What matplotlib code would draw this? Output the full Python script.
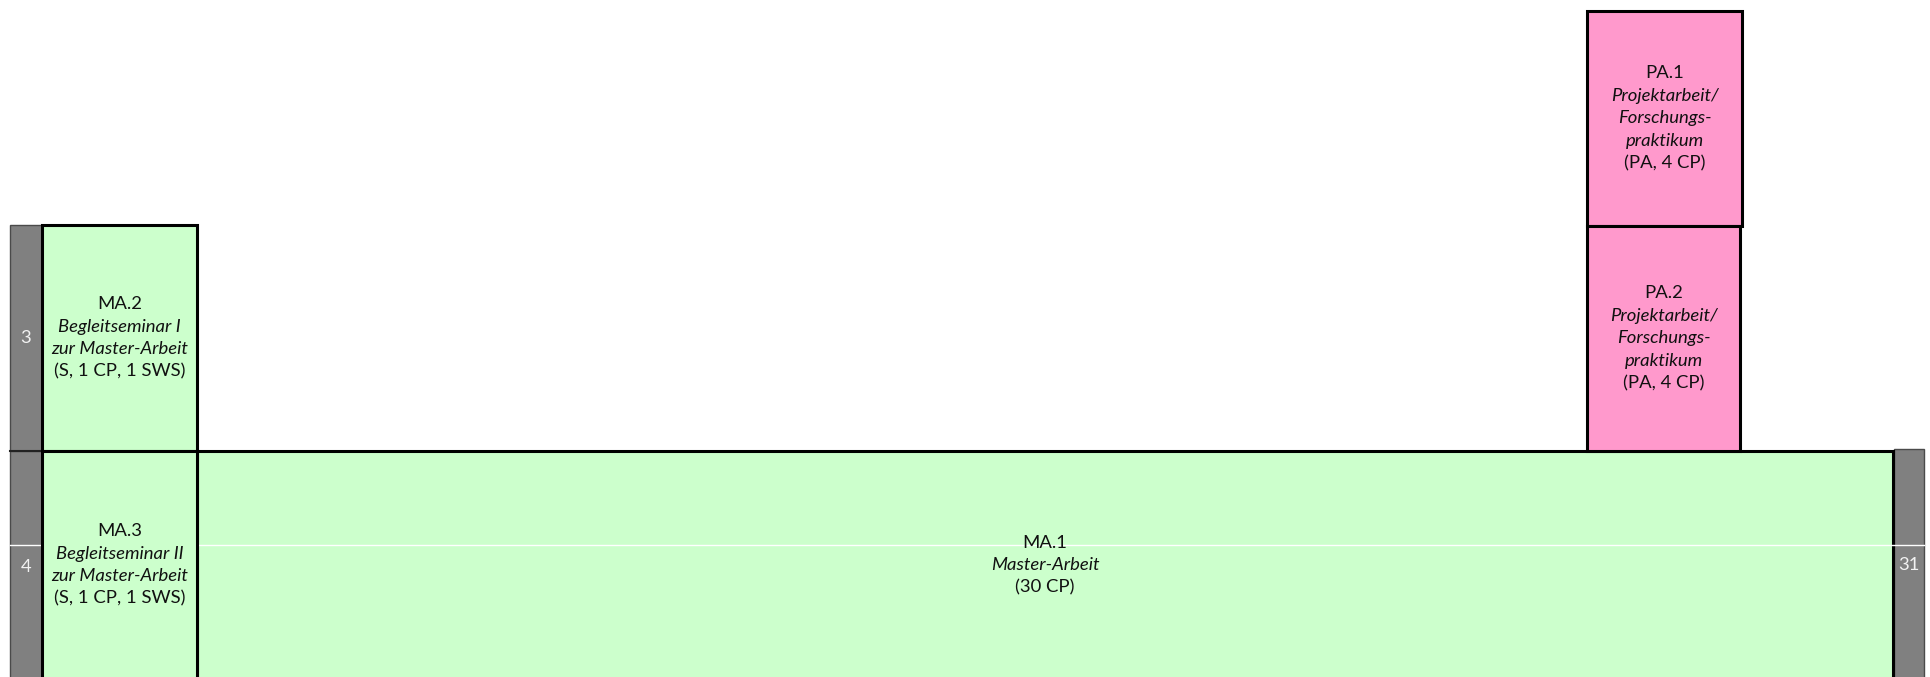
import matplotlib
matplotlib.use("Agg")
import matplotlib.pyplot as plt
from matplotlib.patches import Rectangle

# ---- data (diagram units = reference pixels, y grows downward) ----
module_ids = ["MA.2", "MA.3", "MA.1", "PA.1", "PA.2"]
module_titles = [
    ["Begleitseminar I", "zur Master-Arbeit"],
    ["Begleitseminar II", "zur Master-Arbeit"],
    ["Master-Arbeit"],
    ["Projektarbeit/", "Forschungs-", "praktikum"],
    ["Projektarbeit/", "Forschungs-", "praktikum"],
]
module_details = ["(S, 1 CP, 1 SWS)", "(S, 1 CP, 1 SWS)", "(30 CP)", "(PA, 4 CP)", "(PA, 4 CP)"]
module_x0 = [42, 42, 197, 1587, 1587]
module_x1 = [197, 197, 1893, 1742, 1740]
module_y0 = [225, 451, 451, 11, 226]
module_y1 = [451, 680, 680, 226, 451]
module_group = ["green", "green", "green", "pink", "pink"]

semester_labels = ["3", "4"]
semester_y0 = [225, 451]
semester_y1 = [451, 680]
total_label = "31"

colors = {"green": "#CCFFCC", "pink": "#FF99CC"}
gray = "#808080"

W, H = 1930, 677
fig = plt.figure(figsize=(W / 100, H / 100), dpi=100)
ax = fig.add_axes([0, 0, 1, 1])
ax.set_xlim(0, W)
ax.set_ylim(H, 0)
ax.axis("off")

FONT = ["Lato", "DejaVu Sans"]
FS = 13.3
LINE = 22.5

# left semester column
label_y = [338, 567]
for lab, y0, y1, ly in zip(semester_labels, semester_y0, semester_y1, label_y):
    ax.add_patch(Rectangle((10, y0), 32, y1 - y0, facecolor=gray,
                           edgecolor="#4a4a4a", lw=1.0, zorder=1))
    ax.text(26, ly, lab, color="#f2f2f2",
            ha="center", va="center", fontsize=FS, family=FONT, zorder=6)

# right total column
ax.add_patch(Rectangle((1894, 449), 30, 240, facecolor=gray,
                       edgecolor="#4a4a4a", lw=1.0, zorder=1))
ax.text(1909, 565, total_label, color="#f2f2f2", ha="center", va="center",
        fontsize=FS, family=FONT, zorder=6)

# module boxes
for mid, titles, det, x0, x1, y0, y1, g in zip(module_ids, module_titles,
                                                module_details, module_x0,
                                                module_x1, module_y0,
                                                module_y1, module_group):
    z = 2 if mid == "MA.1" else 4
    ax.add_patch(Rectangle((x0, y0), x1 - x0, y1 - y0, facecolor=colors[g],
                           edgecolor="black", lw=2.2, zorder=z))
    lines = [(mid, "normal")] + [(t, "italic") for t in titles] + [(det, "normal")]
    cy = (min(y1, H) + y0) / 2
    if y1 > H:
        cy = 565
    n = len(lines)
    for i, (txt, style) in enumerate(lines):
        yy = cy + (i - (n - 1) / 2) * LINE
        ax.text((x0 + x1) / 2, yy, txt, ha="center", va="center",
                fontsize=FS, style=style, family=FONT, color="#111111",
                zorder=6)

# white separator line (over MA.1 and gray columns, under MA.3)
ax.plot([10, 1924], [545, 545], color="white", lw=1.0, zorder=3)
# dark row separator in left gray column
ax.plot([10, 42], [451, 451], color="#222222", lw=1.5, zorder=3)

fig.savefig("out.png", dpi=100)
